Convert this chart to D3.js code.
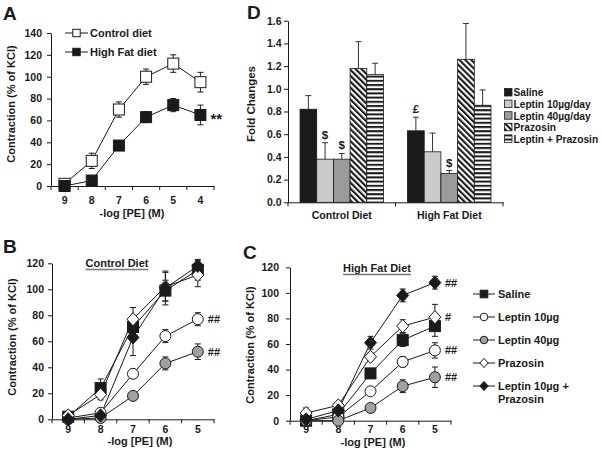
<!DOCTYPE html>
<html><head><meta charset="utf-8">
<script src="https://cdn.jsdelivr.net/npm/d3@7/dist/d3.min.js"></script>
<style>
body{margin:0;background:#fff}
svg text{font-family:"Liberation Sans",Arial,sans-serif;font-weight:bold;fill:#1a1a1a}
</style>
</head><body>
<svg id="c" width="603" height="457"></svg>
<script>
// ---------- DATA ----------
// Panel A
const dosesA = ["9","8","7","6","5","4"];
const aControl = [2, 23, 70, 100, 112, 95];
const aControlErr = [2, 7, 7, 7, 8, 9];
const aHighFat = [0, 5, 37, 63, 74, 65];
const aHighFatErr = [1, 2, 2, 5, 6, 9];
const aSeriesNames = ["Control diet", "High Fat diet"];
const aYTicks = [0,20,40,60,80,100,120,140];

// Panels B & C
const dosesBC = ["9","8","7","6","5"];
const bcSeriesNames = ["Saline","Leptin 10µg","Leptin 40µg","Prazosin","Leptin 10µg +|Prazosin"];
const bSaline   = [2, 24, 71, 99, 115];  const bSalineErr   = [2, 7, 8, 8, 8];
const bLep10    = [1, 5, 35, 64, 77];    const bLep10Err    = [1, 2, 3, 5, 5];
const bLep40    = [0, 1, 18, 43, 52];    const bLep40Err    = [0.5, 1, 2, 5, 6];
const bPrazosin = [3, 19, 77, 102, 111]; const bPrazosinErr = [2, 4, 9, 11, 9];
const bLepPraz  = [0, 3, 63, 101, 118];  const bLepPrazErr  = [1, 2, 14, 13, 4];
const bFlags = ["", "##", "##", "", ""];

const cSaline   = [0, 5, 37, 63, 74];    const cSalineErr   = [1, 2, 3, 5, 8];
const cLep10    = [0, 3, 23, 46, 55];    const cLep10Err    = [0.5, 1, 2, 4, 6];
const cLep40    = [0, 0, 10, 27, 34];    const cLep40Err    = [0.5, 0.5, 1, 5, 8];
const cPrazosin = [6, 12, 50, 74, 81];   const cPrazosinErr = [4, 2, 3, 5, 10];
const cLepPraz  = [1, 8, 61, 98, 108];   const cLepPrazErr  = [1, 2, 5, 5, 5];
const cFlags = ["", "##", "##", "#", "##"];
const bcYTicks = [0,20,40,60,80,100,120];

// Panel D
const dGroups = ["Control Diet", "High Fat Diet"];
const dTreatments = ["Saline","Leptin 10µg/day","Leptin 40µg/day","Prazosin","Leptin + Prazosin"];
const dControl = [0.82, 0.38, 0.38, 1.18, 1.125];
const dControlErr = [0.12, 0.145, 0.05, 0.235, 0.10];
const dHighFat = [0.63, 0.445, 0.255, 1.26, 0.855];
const dHighFatErr = [0.12, 0.165, 0.025, 0.315, 0.135];
const dControlFlags = ["", "$", "$", "", ""];
const dHighFatFlags = ["£", "", "$", "", ""];
const dYTicks = [0,0.2,0.4,0.6,0.8,1.0,1.2,1.4,1.6];

// ---------- DRAWING ----------
const INK = "#1a1a1a";
const svg = d3.select("#c");
const defs = svg.append("defs");
defs.append("pattern").attr("id","diag").attr("patternUnits","userSpaceOnUse")
  .attr("width",4.2).attr("height",4.2).attr("patternTransform","rotate(-45)")
  .call(p=>{p.append("rect").attr("width",4.2).attr("height",4.2).attr("fill","#fff");
            p.append("rect").attr("width",2.1).attr("height",4.2).attr("fill",INK);});
defs.append("pattern").attr("id","horiz").attr("patternUnits","userSpaceOnUse")
  .attr("width",4).attr("height",4.2)
  .call(p=>{p.append("rect").attr("width",4).attr("height",4.2).attr("fill","#fff");
            p.append("rect").attr("width",4).attr("height",2).attr("fill",INK);});

function marker(g, shape, fill, k) {
  if (shape === "circle") {
    g.append("circle").attr("r", k).attr("fill", fill).attr("stroke", INK).attr("stroke-width", 1);
  } else if (shape === "square") {
    g.append("rect").attr("x",-k).attr("y",-k).attr("width",2*k).attr("height",2*k)
      .attr("fill", fill).attr("stroke", INK).attr("stroke-width", 1);
  } else {
    g.append("path").attr("d", `M0,${-k*1.1}L${k},0L0,${k*1.1}L${-k},0Z`)
      .attr("fill", fill).attr("stroke", INK).attr("stroke-width", 1);
  }
}

function axes(g, x, y, yTicks, fmt, o) {
  const ya = g.append("g").attr("transform", `translate(${x.range()[0]},0)`)
    .call(d3.axisLeft(y).tickValues(yTicks).tickSize(4).tickSizeOuter(0).tickPadding(o.yPad).tickFormat(fmt));
  const xa = g.append("g").attr("transform", `translate(0,${y.range()[0]})`)
    .call(d3.axisBottom(x).tickSize(0).tickSizeOuter(0).tickPadding(o.xPad));
  const edges = x.domain().map(d => x(d)).concat([x.range()[1]]);
  xa.selectAll("line.edge").data(edges).join("line").attr("class","edge")
    .attr("x1", d=>d).attr("x2", d=>d).attr("y1", 0).attr("y2", 4).attr("stroke", INK);
  [ya, xa].forEach(a => {
    a.attr("font-family", null).attr("font-size", null);
    a.selectAll("text").attr("font-size", o.tickFont || 10.5).attr("fill", INK);
    a.selectAll("path,line").attr("stroke", INK);
  });
}

function label(txt, x, y, size, opts = {}) {
  const t = svg.append("text").attr("x", x).attr("y", y).attr("font-size", size)
    .attr("text-anchor", opts.anchor || "middle").text(txt);
  if (opts.rotate) t.attr("transform", `rotate(-90,${x},${y})`);
  return t;
}

function lineSeries(g, x, y, vals, errs, shape, fill) {
  const cx = d => x(d) + x.bandwidth() / 2;
  const pts = x.domain().map((d, i) => ({d, v: vals[i], e: errs[i]}));
  const eb = g.append("g");
  pts.forEach(p => {
    const X = cx(p.d), y1 = y(Math.max(0, p.v - p.e)), y2 = y(p.v + p.e);
    eb.append("line").attr("x1",X).attr("x2",X).attr("y1",y1).attr("y2",y2).attr("stroke",INK);
    eb.append("line").attr("x1",X-3).attr("x2",X+3).attr("y1",y2).attr("y2",y2).attr("stroke",INK);
    eb.append("line").attr("x1",X-3).attr("x2",X+3).attr("y1",y1).attr("y2",y1).attr("stroke",INK);
  });
  g.append("path").datum(pts)
    .attr("d", d3.line().x(p => cx(p.d)).y(p => y(p.v)))
    .attr("fill","none").attr("stroke",INK).attr("stroke-width",1);
  return pts.map(p => ({X: cx(p.d), Y: y(p.v), shape, fill}));
}

// ----- Panel A -----
{
  const g = svg.append("g");
  const x = d3.scaleBand().domain(dosesA).range([51, 214]);
  const y = d3.scaleLinear().domain([0, 140]).range([186, 33]);
  axes(g, x, y, aYTicks, d3.format("d"), {yPad: 5, xPad: 11});
  const mk = [];
  mk.push(lineSeries(g, x, y, aControl, aControlErr, "square", "#fff"));
  mk.push(lineSeries(g, x, y, aHighFat, aHighFatErr, "square", INK));
  mk.forEach(s => s.forEach(m => marker(g.append("g").attr("transform",`translate(${m.X},${m.Y})`), m.shape, m.fill, 5.5)));
  const last = mk[1][mk[1].length - 1];
  label("**", last.X + 10, last.Y + 9, 15, {anchor: "start"});
  // legend
  aSeriesNames.forEach((n, i) => {
    const yy = 33 + i * 19;
    g.append("line").attr("x1",65).attr("x2",88).attr("y1",yy).attr("y2",yy).attr("stroke",INK);
    marker(g.append("g").attr("transform",`translate(76.5,${yy})`), "square", i ? INK : "#fff", 3.7);
    label(n, 90, yy + 4, 11, {anchor: "start"});
  });
  label("Contraction (% of KCl)", 15, 104, 11, {rotate: true});
  label("-log [PE] (M)", 132, 217, 11);
  label("A", 3, 20, 19, {anchor: "start"});
}

// ----- Panels B & C -----
const shapes = ["square","circle","circle","diamond","diamond"];
const fills = [INK, "#fff", "#a0a0a0", "#fff", INK];
function panelBC(xr, yr, data, flags, o) {
  const g = svg.append("g");
  const x = d3.scaleBand().domain(dosesBC).range(xr);
  const y = d3.scaleLinear().domain([0, 120]).range(yr);
  axes(g, x, y, bcYTicks, d3.format("d"), o);
  const mk = data.map((s, i) => lineSeries(g, x, y, s[0], s[1], shapes[i], fills[i]));
  mk.forEach(s => s.forEach(m => marker(g.append("g").attr("transform",`translate(${m.X},${m.Y})`), m.shape, m.fill, m.shape === "diamond" ? 6 : 5.5)));
  mk.forEach((s, i) => { if (flags[i]) { const m = s[s.length-1]; label(flags[i], m.X + 10, m.Y + 4, 11, {anchor:"start"}); } });
  return g;
}
{
  panelBC([52, 214], [419.3, 263.3],
    [[bSaline,bSalineErr],[bLep10,bLep10Err],[bLep40,bLep40Err],[bPrazosin,bPrazosinErr],[bLepPraz,bLepPrazErr]],
    bFlags, {yPad: 4, xPad: 6.5});
  const t = label("Control Diet", 117, 267, 11);
  const w = t.node().getComputedTextLength();
  svg.append("line").attr("x1",117-w/2).attr("x2",117+w/2).attr("y1",269.5).attr("y2",269.5).attr("stroke","#777").attr("stroke-width",1.6);
  label("Contraction (% of KCl)", 16, 337, 11, {rotate: true});
  label("-log [PE] (M)", 140, 445, 11);
  label("B", 3, 253, 19, {anchor: "start"});
}
{
  panelBC([290, 451], [420.7, 267.3],
    [[cSaline,cSalineErr],[cLep10,cLep10Err],[cLep40,cLep40Err],[cPrazosin,cPrazosinErr],[cLepPraz,cLepPrazErr]],
    cFlags, {yPad: 7, xPad: 5});
  const t = label("High Fat Diet", 377, 272, 11);
  const w = t.node().getComputedTextLength();
  svg.append("line").attr("x1",377-w/2).attr("x2",377+w/2).attr("y1",274.5).attr("y2",274.5).attr("stroke","#777").attr("stroke-width",1.6);
  label("Contraction (% of KCl)", 254, 345, 11, {rotate: true});
  label("-log [PE] (M)", 373, 445.5, 11);
  label("C", 243, 259, 19, {anchor: "start"});
  // legend
  bcSeriesNames.forEach((n, i) => {
    const yy = 294 + i * 23;
    const lg = svg.append("g");
    lg.append("line").attr("x1",473).attr("x2",495).attr("y1",yy).attr("y2",yy).attr("stroke",INK);
    marker(lg.append("g").attr("transform",`translate(484,${yy})`), shapes[i], fills[i], shapes[i]==="diamond" ? 4.2 : 3.8);
    n.split("|").forEach((part, j) => label(part, 498, yy + 4 + j * 12.5, 11, {anchor: "start"}));
  });
}

// ----- Panel D -----
{
  const g = svg.append("g");
  const barFills = [INK, "#cbcbcb", "#9b9b9b", "url(#diag)", "url(#horiz)"];
  const x0 = d3.scaleBand().domain(dGroups).range([288, 503]);
  const x1 = d3.scaleBand().domain(dTreatments).range([0, x0.bandwidth()]).paddingInner(0).paddingOuter(0.72);
  const y = d3.scaleLinear().domain([0, 1.6]).range([202.3, 20.7]);
  axes(g, x0, y, dYTicks, d3.format(".1f"), {yPad: 2.5, xPad: 9});
  const rows = [[dControl, dControlErr, dControlFlags], [dHighFat, dHighFatErr, dHighFatFlags]];
  dGroups.forEach((grp, gi) => {
    const [vals, errs, flags] = rows[gi];
    dTreatments.forEach((t, i) => {
      const bx = x0(grp) + x1(t), bw = x1.bandwidth(), cx = bx + bw / 2;
      const top = y(vals[i] + errs[i]);
      g.append("line").attr("x1",cx).attr("x2",cx).attr("y1",y(vals[i])).attr("y2",top).attr("stroke","#333");
      g.append("line").attr("x1",cx-3).attr("x2",cx+3).attr("y1",top).attr("y2",top).attr("stroke","#333");
      g.append("rect").attr("x",bx).attr("y",y(vals[i])).attr("width",bw).attr("height",y(0)-y(vals[i]))
        .attr("fill",barFills[i]).attr("stroke",INK).attr("stroke-width",0.8);
      if (flags[i]) label(flags[i], cx, top - 4, 11.5);
    });
  });
  dTreatments.forEach((t, i) => {
    const yy = 92.3 + i * 11.6;
    g.append("rect").attr("x",504.5).attr("y",yy-3.8).attr("width",7.5).attr("height",7.5)
      .attr("fill",barFills[i]).attr("stroke",INK).attr("stroke-width",0.8);
    label(t, 513.5, yy + 4, 10.2, {anchor: "start"});
  });
  label("Fold Changes", 255, 104, 11.5, {rotate: true});
  label("D", 247, 18.5, 19, {anchor: "start"});
}
</script>
</body></html>
